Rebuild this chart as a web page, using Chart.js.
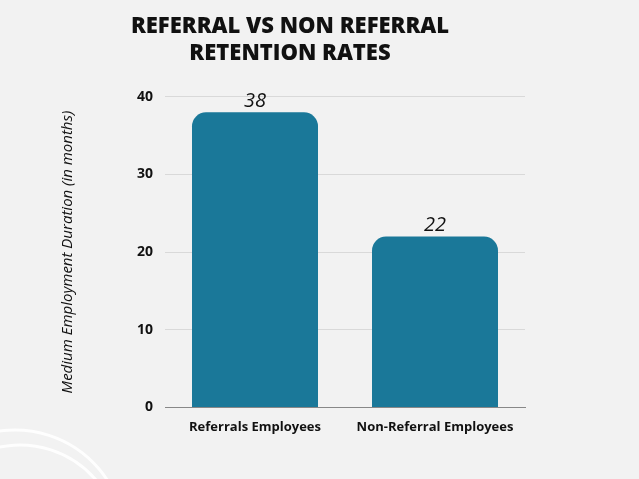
<!DOCTYPE html>
<html><head><meta charset="utf-8">
<script src="https://cdn.jsdelivr.net/npm/chart.js@4"></script>
<style>html,body{margin:0;padding:0;background:#f2f2f2;overflow:hidden}#w{width:639px;height:479px;position:relative}</style>
</head><body><div id="w"><canvas id="c"></canvas></div>
<script>
const categories=["Referrals Employees","Non-Referral Employees"];
const values=[38,22];
const titleLines=["REFERRAL VS NON REFERRAL","RETENTION RATES"];
const yTitle="Medium Employment Duration (in months)";
const deco={id:'deco',beforeDraw(ch){const c=ch.ctx;c.save();c.strokeStyle='rgba(255,255,255,0.9)';c.lineWidth=3;
[[15,540,110],[20,545,100]].forEach(a=>{c.beginPath();c.arc(a[0],a[1],a[2],Math.PI*1.1,Math.PI*1.95);c.stroke();});c.restore();},
afterDatasetsDraw(ch){const c=ch.ctx;const m=ch.getDatasetMeta(0);c.save();c.font='italic 20px "Open Sans"';c.fillStyle='#111';c.textAlign='center';c.textBaseline='bottom';
m.data.forEach((b,i)=>c.fillText(values[i],b.x,b.y-1));c.restore();}};
new Chart(document.getElementById('c'),{type:'bar',
data:{labels:categories,datasets:[{data:values,backgroundColor:'#1a7899',borderRadius:{topLeft:14,topRight:14},borderSkipped:'bottom',barPercentage:0.7,categoryPercentage:1}]},
plugins:[deco],
options:{responsive:true,maintainAspectRatio:false,animation:false,devicePixelRatio:1,
layout:{padding:{left:55,right:114,top:0,bottom:40}},
plugins:{legend:{display:false},tooltip:{enabled:false},
title:{display:true,text:titleLines,color:'#111',font:{family:'Open Sans',size:22,weight:'800'},lineHeight:1.45,padding:{top:14,bottom:30}}},
scales:{x:{grid:{display:false},border:{color:'#888'},ticks:{color:'#111',font:{family:'Open Sans',size:13,weight:'bold'},padding:4}},
y:{min:0,max:40,afterFit(s){s.width=110;},ticks:{stepSize:10,color:'#111',font:{family:'Open Sans',size:14,weight:'bold'},padding:12},
grid:{color:'#d9d9d9',drawTicks:false},border:{display:false},
title:{display:true,text:yTitle,color:'#111',font:{family:'Open Sans',size:15,style:'italic'},padding:{bottom:60}}}}}});
</script></body></html>
